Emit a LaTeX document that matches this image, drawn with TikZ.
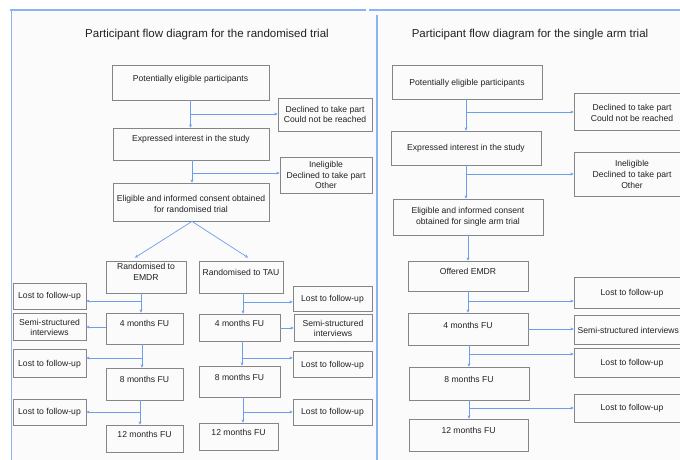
\documentclass[tikz,border=0pt]{standalone}
\usepackage{fontspec}
\setmainfont{Liberation Sans}
\usetikzlibrary{arrows.meta,fit}
\definecolor{arrblue}{HTML}{6D9EEB}
\definecolor{panblue}{HTML}{8FB3F0}
\definecolor{boxgray}{HTML}{858585}
\definecolor{txtgray}{HTML}{222222}
\tikzset{
  box/.style={draw=boxgray, line width=0.8pt, inner sep=0pt},
  txt/.style={align=center, font=\fontsize{8.6}{10.6}\selectfont, text=txtgray, inner sep=0pt},
  ttl/.style={font=\fontsize{11.5}{13}\selectfont, text=txtgray, inner sep=0pt},
  arr/.style={draw=arrblue, line width=0.7pt, -{Stealth[length=3.2pt,width=3pt]}},
  pan/.style={draw=panblue, line width=1.2pt}
}
% \flowbox{name}{x1}{y1}{x2}{y2}{text}{texty}
\newcommand\flowbox[7]{%
  \node[box, fit={(#2,#3) (#4,#5)}] (#1) {};
  \node[txt] (#1-t) at ({(#2+#4)/2},#7) {#6};
}
\begin{document}
\begin{tikzpicture}[x=1pt,y=-1pt]
\useasboundingbox (0,0) rectangle (680,460);
\fill[white] (0,0) rectangle (680,460);
\fill[gray!3] (11,10) rectangle (680,460);
\draw[pan] (10,10) -- (366,10);
\draw[pan] (369,10) -- (680,10);
\draw[pan] (11.5,10) -- (11.5,460);
\draw[pan, line width=1.8pt] (377,15) -- (377,460);

% ---------- left panel ----------
\node[ttl] (titleL) at (207,35) {Participant flow diagram for the randomised trial};
\flowbox{pa}{112}{65}{269}{100}{Potentially eligible participants}{79}
\flowbox{dc}{278}{98}{372}{131}{Declined to take part\\Could not be reached}{114.5}
\flowbox{ex}{113}{128}{269}{160}{Expressed interest in the study}{139}
\flowbox{in}{280}{157}{372}{193}{Ineligible\\Declined to take part\\Other}{175}
\flowbox{el}{113}{183}{269}{221}{Eligible and informed consent obtained\\for randomised trial}{204}
\flowbox{re}{106}{261}{186}{293}{Randomised to\\EMDR}{272}
\flowbox{rt}{199}{261}{283}{293}{Randomised to TAU}{272}
\flowbox{l1}{13}{283}{86}{309}{Lost to follow-up}{296}
\flowbox{e4}{106}{313}{183}{344}{4 months FU}{323}
\flowbox{s1}{13}{313}{86}{340}{Semi-structured\\interviews}{327.5}
\flowbox{l2}{13}{349}{86}{377}{Lost to follow-up}{364}
\flowbox{e8}{106}{368}{183}{400}{8 months FU}{379}
\flowbox{l3}{13}{399}{86}{425}{Lost to follow-up}{412}
\flowbox{e12}{106}{425}{183}{452}{12 months FU}{434}
\flowbox{r1}{293}{286}{372}{311}{Lost to follow-up}{299}
\flowbox{t4}{199}{314}{280}{341}{4 months FU}{323}
\flowbox{s2}{294}{314}{372}{341}{Semi-structured\\interviews}{328.5}
\flowbox{r2}{293}{351}{372}{377}{Lost to follow-up}{365}
\flowbox{t8}{199}{366}{280}{397}{8 months FU}{377}
\flowbox{r3}{293}{399}{372}{425}{Lost to follow-up}{412}
\flowbox{t12}{199}{423}{278}{450}{12 months FU}{432}

\draw[arr] (pa.south) -- (pa.south |- ex.north);
\draw[arr] (pa.south |- 0,114) -- (dc.west |- 0,114);
\draw[arr] ([xshift=1pt]ex.south) -- ([xshift=1pt]ex.south |- el.north);
\draw[arr] ([xshift=1pt]ex.south |- 0,173) -- (in.west |- 0,173);
\draw[arr] ([xshift=1pt]el.south) -- ([xshift=-11pt,yshift=3pt]re.north);
\draw[arr] ([xshift=1pt]el.south) -- ([xshift=7pt,yshift=3pt]rt.north);

\draw[arr] ([xshift=-5pt]re.south) -- ([xshift=-5pt]re.south |- e4.north);
\draw[arr] ([xshift=-5pt]re.south |- 0,301) -- (l1.east |- 0,301);
\draw[arr] (e4.west |- 0,327) -- (s1.east |- 0,327);
\draw[arr] ([xshift=-2.5pt]e4.south) -- ([xshift=-2.5pt]e4.south |- e8.north);
\draw[arr] ([xshift=-2.5pt]e4.south |- 0,358) -- (l2.east |- 0,358);
\draw[arr] ([xshift=-4.5pt]e8.south) -- ([xshift=-4.5pt]e8.south |- e12.north);
\draw[arr] ([xshift=-4.5pt]e8.south |- 0,412) -- (l3.east |- 0,412);

\draw[arr] ([xshift=2pt]rt.south) -- ([xshift=2pt]rt.south |- t4.north);
\draw[arr] ([xshift=2pt]rt.south |- 0,302) -- (r1.west |- 0,302);
\draw[arr] (t4.east |- 0,328) -- (s2.west |- 0,328);
\draw[arr] ([xshift=2.5pt]t4.south) -- ([xshift=2.5pt]t4.south |- t8.north);
\draw[arr] ([xshift=2.5pt]t4.south |- 0,358) -- (r2.west |- 0,358);
\draw[arr] ([xshift=3.5pt]t8.south) -- ([xshift=3.5pt]t8.south |- t12.north);
\draw[arr] ([xshift=3.5pt]t8.south |- 0,412) -- (r3.west |- 0,412);

% ---------- right panel ----------
\node[ttl] (titleR) at (530,35) {Participant flow diagram for the single arm trial};
\flowbox{Pa}{392}{65}{542}{99}{Potentially eligible participants}{83}
\flowbox{Dc}{574}{93}{690}{130}{Declined to take part\\Could not be reached}{113}
\flowbox{Ex}{391}{131}{541}{165}{Expressed interest in the study}{148}
\flowbox{In}{574}{152}{690}{196}{Ineligible\\Declined to take part\\Other}{174.5}
\flowbox{El}{393}{199}{543}{235}{Eligible and informed consent\\obtained for single arm trial}{217}
\flowbox{Of}{408}{261}{528}{291}{Offered EMDR}{271}
\flowbox{L1}{574}{277}{690}{308}{Lost to follow-up}{293}
\flowbox{F4}{408}{313}{528}{345}{4 months FU}{325}
\flowbox{Ss}{574}{315}{690}{344}{}{330}
\node[txt, anchor=west] (Ss-text) at (577.5,330) {Semi-structured interviews};
\flowbox{L2}{574}{348}{690}{377}{Lost to follow-up}{363}
\flowbox{F8}{409}{367}{529}{400}{8 months FU}{379}
\flowbox{L3}{574}{394}{690}{422}{Lost to follow-up}{408}
\flowbox{F12}{409}{419}{528}{451}{12 months FU}{430}

\draw[arr] ([xshift=-1pt]Pa.south) -- ([xshift=-1pt]Pa.south |- Ex.north);
\draw[arr] ([xshift=-1pt]Pa.south |- 0,112) -- (Dc.west |- 0,112);
\draw[arr] (Ex.south) -- (Ex.south |- El.north);
\draw[arr] (Ex.south |- 0,174) -- (In.west |- 0,174);
\draw[arr] (El.south) -- (El.south |- Of.north);
\draw[arr] (Of.south) -- (Of.south |- F4.north);
\draw[arr] (Of.south |- 0,301) -- (L1.west |- 0,301);
\draw[arr] (F4.east |- 0,329) -- (Ss.west |- 0,329);
\draw[arr] (F8.north |- F4.south) -- (F8.north);
\draw[arr] (F8.north |- 0,354) -- (L2.west |- 0,354);
\draw[arr] (F8.south) -- (F8.south |- F12.north);
\draw[arr] (F8.south |- 0,408) -- (L3.west |- 0,408);
\end{tikzpicture}
\end{document}
